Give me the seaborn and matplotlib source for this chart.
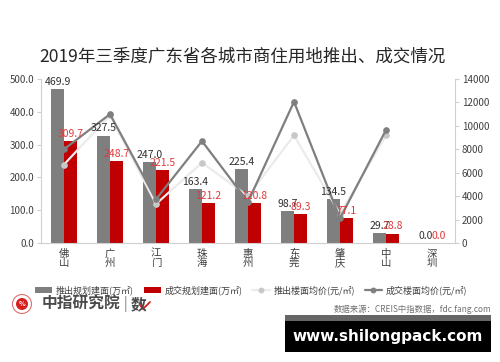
import numpy as np
import pandas as pd
import matplotlib
matplotlib.use("Agg")
import matplotlib.pyplot as plt
import seaborn as sns
from matplotlib.patches import Patch, Ellipse, Rectangle
from matplotlib.lines import Line2D
from matplotlib.ticker import FormatStrFormatter

# ---------------- data ----------------
cities = ["佛山", "广州", "江门", "珠海", "惠州", "东莞", "肇庆", "中山", "深圳"]
supply_area = [469.9, 327.5, 247.0, 163.4, 225.4, 98.7, 134.5, 29.7, 0.0]
deal_area = [309.7, 248.7, 221.5, 121.2, 120.8, 89.3, 77.1, 28.8, 0.0]
price_cities = ["佛山", "广州", "江门", "珠海", "惠州", "东莞", "肇庆", "中山"]
supply_price = [6700, 10900, 3330, 6860, 4000, 9190, 2480, 9190]
deal_price = [8000, 11000, 3730, 8700, 3500, 12060, 2100, 9650]

s_supply = "推出规划建面(万㎡)"
s_deal = "成交规划建面(万㎡)"
s_sprice = "推出楼面均价(元/㎡)"
s_dprice = "成交楼面均价(元/㎡)"

GRAY = "#7f7f7f"
RED = "#c00000"
LIGHT = "#ebebeb"
LIGHT_M = "#c8c8c8"
DARK = "#7f7f7f"

sns.set_theme(style="white")
plt.rcParams['font.family'] = ['Noto Sans CJK SC', 'DejaVu Sans']
plt.rcParams['axes.unicode_minus'] = False

df = pd.DataFrame({
    "city": cities * 2,
    "value": supply_area + deal_area,
    "series": [s_supply] * len(cities) + [s_deal] * len(cities),
})

fig = plt.figure(figsize=(5, 3.62), dpi=100)
ax = fig.add_axes([0.082, 1 - 243 / 362, 0.828, (243 - 79) / 362])

sns.barplot(data=df, x="city", y="value", hue="series", order=cities,
            palette=[GRAY, RED], width=0.56, gap=0, ax=ax, legend=False,
            saturation=1, edgecolor="none")

ax.set_ylim(0, 500)
ax.set_yticks(np.arange(0, 501, 100))
ax.yaxis.set_major_formatter(FormatStrFormatter("%.1f"))
ax.set_xlabel("")
ax.set_ylabel("")
ax.set_xticks(range(len(cities)))
ax.set_xticklabels(["\n".join(c) for c in cities], fontsize=7.5,
                   linespacing=0.9, color="#404040")
ax.tick_params(axis="y", labelsize=7, colors="#404040", length=3,
               color="#d0d0d0", width=0.8, pad=2)
ax.tick_params(axis="x", length=0, pad=4)
for s in ["top", "right"]:
    ax.spines[s].set_visible(False)
for s in ["left", "bottom"]:
    ax.spines[s].set_color("#d0d0d0")
    ax.spines[s].set_linewidth(0.8)

ax2 = ax.twinx()
xs = [cities.index(c) for c in price_cities]
sns.lineplot(x=xs, y=supply_price, ax=ax2, color=LIGHT, linewidth=1.6,
             marker="o", markersize=4, markerfacecolor=LIGHT_M,
             markeredgecolor=LIGHT_M)
sns.lineplot(x=xs, y=deal_price, ax=ax2, color=DARK, linewidth=1.6,
             marker="o", markersize=4, markerfacecolor=DARK,
             markeredgecolor=DARK)
ax2.set_ylim(0, 14000)
ax2.set_yticks(np.arange(0, 14001, 2000))
ax2.set_xlabel("")
ax2.set_ylabel("")
ax2.tick_params(axis="y", labelsize=7, colors="#404040", length=3,
                color="#d0d0d0", width=0.8, pad=2)
for s in ["top", "left", "bottom"]:
    ax2.spines[s].set_visible(False)
ax2.spines["right"].set_color("#d0d0d0")
ax2.spines["right"].set_linewidth(0.8)
ax.set_xlim(-0.5, len(cities) - 0.5)

# bar value labels, drawn on top of the lines
for cont, vals, col in [(ax.containers[0], supply_area, "#303030"),
                        (ax.containers[1], deal_area, "#e0393b")]:
    for bar, v in zip(cont, vals):
        ax2.annotate(f"{v:.1f}", xy=(bar.get_x() + bar.get_width() / 2, bar.get_height()),
                     xycoords=ax.transData, xytext=(0, 1.5), textcoords="offset points",
                     ha="center", va="bottom", fontsize=7.5, color=col, zorder=10)

# title
fig.text(0.484, 1 - 57 / 362, "2019年三季度广东省各城市商住用地推出、成交情况",
         ha="center", va="center", fontsize=12.6, color="#262626")

# legend
handles = [
    Patch(facecolor=GRAY, edgecolor="none"),
    Patch(facecolor=RED, edgecolor="none"),
    Line2D([], [], color=LIGHT, lw=1.6, marker="o", markersize=3.2,
           markerfacecolor=LIGHT_M, markeredgecolor=LIGHT_M),
    Line2D([], [], color=DARK, lw=1.6, marker="o", markersize=3.2,
           markerfacecolor=DARK, markeredgecolor=DARK),
]
fig.legend(handles, [s_supply, s_deal, s_sprice, s_dprice], ncol=4,
           loc="center", bbox_to_anchor=(0.502, 1 - 290 / 362), frameon=False,
           fontsize=6.5, handlelength=1.9, handleheight=0.6,
           columnspacing=1.1, handletextpad=0.4, labelcolor="#404040")

# footer logo
fig.add_artist(Ellipse((22 / 500, 1 - 304 / 362), 19 / 500, 19 / 362,
                       transform=fig.transFigure, facecolor="white",
                       edgecolor="#e07070", lw=0.8))
fig.add_artist(Ellipse((22 / 500, 1 - 304 / 362), 12 / 500, 12 / 362,
                       transform=fig.transFigure, facecolor="#d62020",
                       edgecolor="none"))
fig.text(22 / 500, 1 - 304 / 362, "%", ha="center", va="center",
         fontsize=5, color="white", fontweight="bold")
fig.text(42 / 500, 1 - 304 / 362, "中指研究院", ha="left", va="center",
         fontsize=11.3, color="#4a4a4a", fontweight="bold")
fig.text(124 / 500, 1 - 304 / 362, "|", ha="left", va="center",
         fontsize=10, color="#777777")
fig.text(131 / 500, 1 - 304 / 362, "数", ha="left", va="center",
         fontsize=11.3, color="#4a4a4a", fontweight="bold")
fig.add_artist(Line2D([140 / 500, 143 / 500, 146 / 500, 150 / 500],
                      [1 - 305 / 362, 1 - 309 / 362, 1 - 306 / 362, 1 - 302 / 362],
                      transform=fig.transFigure, color="#d62020", lw=1.3))

fig.text(491 / 500, 1 - 309 / 362, "数据来源：CREIS中指数据，fdc.fang.com",
         ha="right", va="center", fontsize=6, color="#707070")

# watermark box
fig.add_artist(Rectangle((285 / 500, 1 - 321 / 362), 206 / 500, 6 / 362,
                         transform=fig.transFigure, facecolor="#666666",
                         edgecolor="none"))
fig.add_artist(Rectangle((285 / 500, 1 - 352 / 362), 206 / 500, 31 / 362,
                         transform=fig.transFigure, facecolor="black",
                         edgecolor="none"))
fig.text(388 / 500, 1 - 337 / 362, "www.shilongpack.com", ha="center",
         va="center", fontsize=11, color="white", fontweight="bold",
         family="DejaVu Sans")

fig.savefig("out.png", dpi=100, facecolor="white")
